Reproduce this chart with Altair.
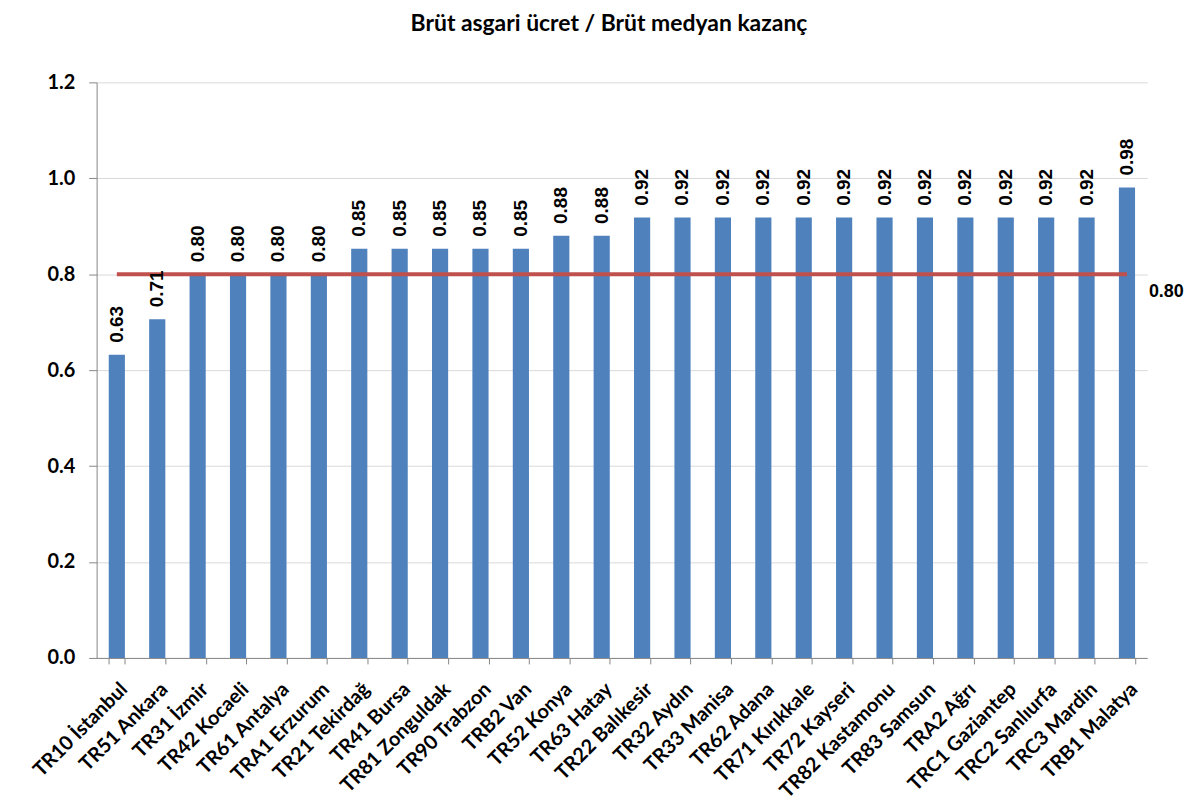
import altair as alt
import pandas as pd

categories = ["TR10 İstanbul", "TR51 Ankara", "TR31 İzmir", "TR42 Kocaeli", "TR61 Antalya",
              "TRA1 Erzurum", "TR21 Tekirdağ", "TR41 Bursa", "TR81 Zonguldak", "TR90 Trabzon",
              "TRB2 Van", "TR52 Konya", "TR63 Hatay", "TR22 Balıkesir", "TR32 Aydın",
              "TR33 Manisa", "TR62 Adana", "TR71 Kırıkkale", "TR72 Kayseri", "TR82 Kastamonu",
              "TR83 Samsun", "TRA2 Ağrı", "TRC1 Gaziantep", "TRC2 Sanlıurfa", "TRC3 Mardin",
              "TRB1 Malatya"]
values = [0.632, 0.706, 0.80, 0.80, 0.80, 0.80, 0.853, 0.853, 0.853, 0.853, 0.853,
          0.88, 0.88, 0.918, 0.918, 0.918, 0.918, 0.918, 0.918, 0.918, 0.918, 0.918,
          0.918, 0.918, 0.918, 0.981]
threshold = 0.80
threshold_label = "0.80"
title_text = "Brüt asgari ücret / Brüt medyan kazanç"

df = pd.DataFrame({"cat": categories, "val": values})
line_df = pd.DataFrame({"x": [categories[0]], "x2": [categories[-1]], "y": [threshold],
                        "label": [threshold_label], "xl": [categories[-1]]})

LABEL_FONT = "Lato"
VAL_FONT = "Liberation Sans"

xscale = alt.Scale(domain=categories, paddingInner=0.6, paddingOuter=0.3)
xenc = alt.X("cat:N", scale=xscale, title=None,
             axis=alt.Axis(labelAngle=-45, labelFont=LABEL_FONT, labelFontSize=20,
                           labelFontWeight="bold", labelColor="#000000", tickBand="extent",
                           domainColor="#868686", tickColor="#868686", tickSize=6,
                           labelPadding=15, labelLimit=300, labelOverlap=False))
yscale = alt.Scale(domain=[0, 1.2], nice=False)
yaxis = alt.Axis(values=[0, 0.2, 0.4, 0.6, 0.8, 1.0, 1.2], format=".1f",
                 labelFont=LABEL_FONT, labelFontSize=20, labelFontWeight="bold",
                 labelColor="#000000", domainColor="#868686", tickColor="#868686",
                 tickSize=8, labelPadding=14, gridColor="#D9D9D9", gridWidth=1)

bars = alt.Chart(df).mark_bar(color="#4F81BD").encode(
    x=xenc,
    y=alt.Y("val:Q", scale=yscale, axis=yaxis, title=None),
)

rule = alt.Chart(line_df).mark_rule(color="#C0504D", strokeWidth=4).encode(
    x=alt.X("x:N", scale=xscale),
    x2="x2:N",
    y=alt.Y("y:Q", scale=yscale),
)

rule_label = alt.Chart(line_df).mark_text(
    font=VAL_FONT, fontSize=18, fontWeight="bold", color="#000000",
    align="left", baseline="middle", dx=22, dy=18,
).encode(
    x=alt.X("xl:N", scale=xscale),
    y=alt.Y("y:Q", scale=yscale),
    text="label:N",
)

val_labels = alt.Chart(df).mark_text(
    font=VAL_FONT, fontSize=19, fontWeight="bold", color="#000000",
    angle=270, align="left", baseline="middle", dx=12,
).encode(
    x=alt.X("cat:N", scale=xscale),
    y=alt.Y("val:Q", scale=yscale),
    text=alt.Text("val:Q", format=".2f"),
)

chart = alt.layer(bars, rule, val_labels, rule_label).properties(
    width=1055, height=578,
    padding={"left": 89, "top": 73, "right": 42, "bottom": 142},
    autosize=alt.AutoSizeParams(type="none"),
    title=alt.TitleParams(title_text, font=LABEL_FONT, fontSize=23, fontWeight="bold",
                          color="#000000", anchor="middle", dx=-13, offset=19,
                          baseline="alphabetic"),
).configure_view(stroke=None).configure_axisX(grid=False)

chart.save("out.html", embed_options={"renderer": "svg", "actions": False})
